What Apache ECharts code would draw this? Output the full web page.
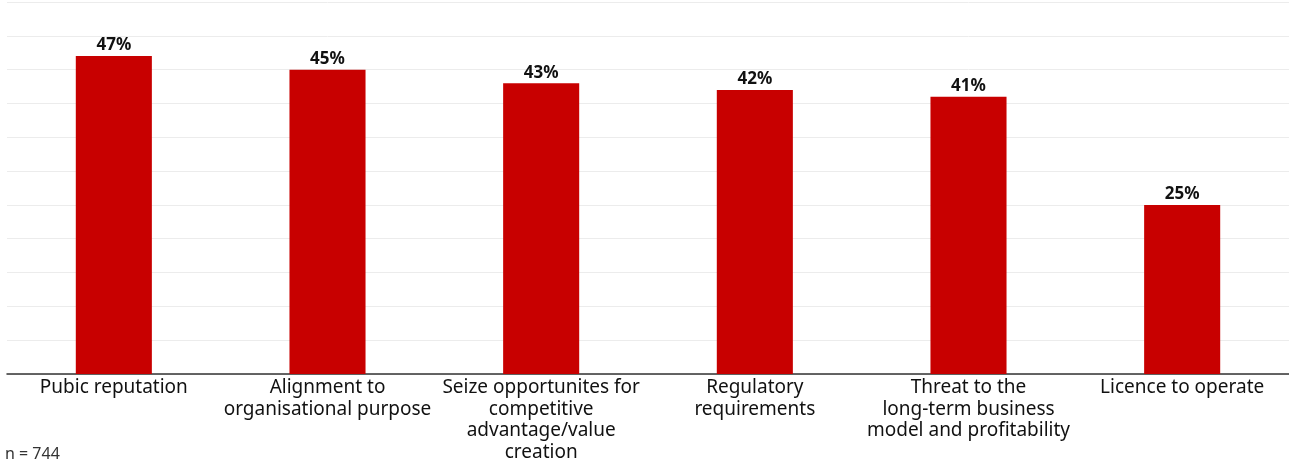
<!DOCTYPE html>
<html>
<head>
<meta charset="utf-8">
<script src="https://cdn.jsdelivr.net/npm/echarts@6/dist/echarts.min.js"></script>
<style>
  html, body { margin: 0; padding: 0; background: #fff; }
  #chart { width: 1289px; height: 464px; }
</style>
</head>
<body>
<div id="chart"></div>
<script>
const categories = [
  "Pubic reputation",
  "Alignment to\norganisational purpose",
  "Seize opportunites for\ncompetitive\nadvantage/value\ncreation",
  "Regulatory\nrequirements",
  "Threat to the\nlong-term business\nmodel and profitability",
  "Licence to operate"
];
const shares = [47, 45, 43, 42, 41, 25];
const sampleNote = "n = 744";

const font = "'Noto Sans', sans-serif";
const chart = echarts.init(document.getElementById("chart"));
chart.setOption({
  animation: false,
  textStyle: { fontFamily: font },
  grid: { left: 7, right: 0, top: 2, bottom: 90, containLabel: false },
  graphic: [{
    type: "text",
    left: 5,
    top: 446,
    style: { text: sampleNote, fontSize: 16, fill: "#333", fontFamily: font }
  }],
  xAxis: {
    type: "category",
    data: categories,
    axisTick: { show: false },
    axisLine: { lineStyle: { color: "#333", width: 1.5 } },
    axisLabel: {
      interval: 0,
      color: "#111",
      fontSize: 19,
      lineHeight: 21.5,
      margin: 3
    }
  },
  yAxis: {
    type: "value",
    min: 0,
    max: 55,
    interval: 5,
    axisLabel: { show: false },
    axisLine: { show: false },
    axisTick: { show: false },
    splitLine: { lineStyle: { color: "#ececec", width: 1 } }
  },
  series: [{
    type: "bar",
    data: shares,
    barWidth: "35.6%",
    itemStyle: { color: "#c80000" },
    label: {
      show: true,
      position: "top",
      distance: 2,
      formatter: "{c}%",
      fontSize: 17,
      fontWeight: "bold",
      color: "#111"
    }
  }]
});
</script>
</body>
</html>
